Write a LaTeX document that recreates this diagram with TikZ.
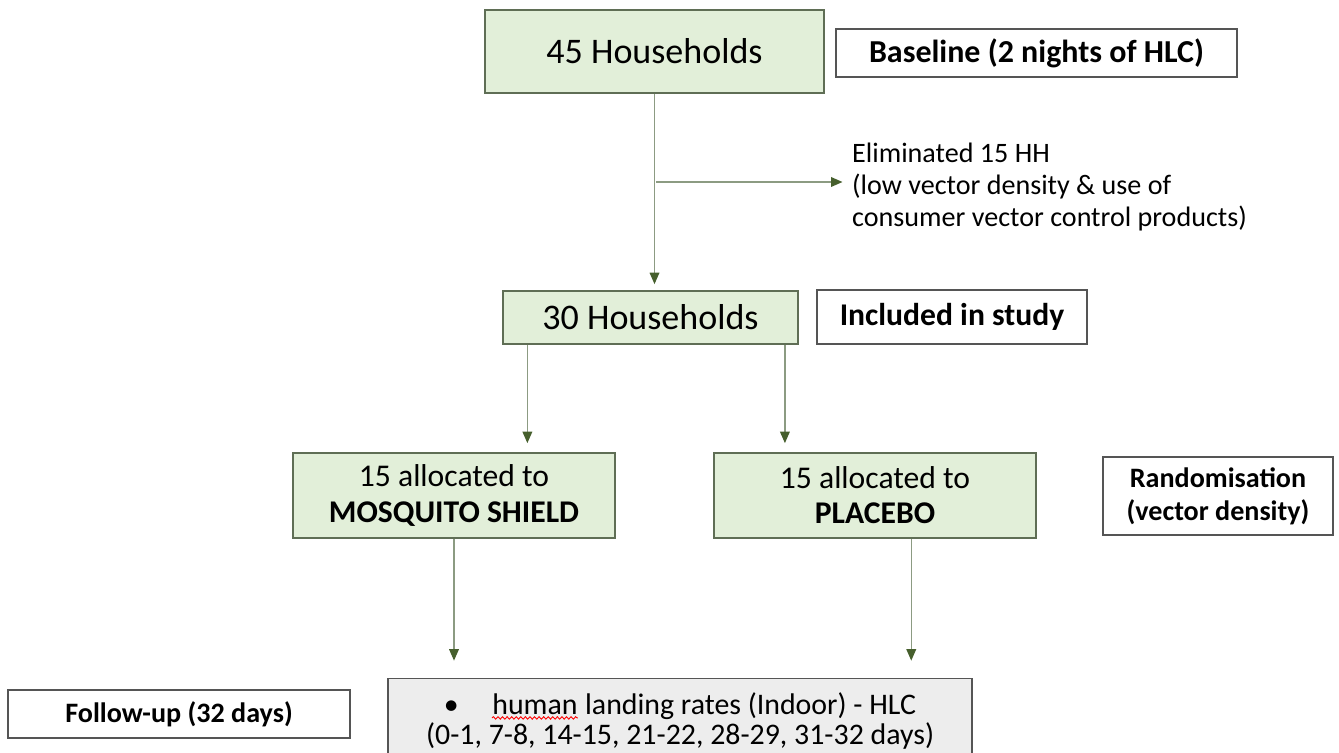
\documentclass[tikz,border=0pt]{standalone}
\usepackage{fontspec}
\setmainfont{Carlito}
\usetikzlibrary{arrows.meta}
\usetikzlibrary{calc}
\usetikzlibrary{positioning}
\usetikzlibrary{decorations.pathmorphing}

\definecolor{boxgreen}{RGB}{226,239,217}
\definecolor{boxgrey}{RGB}{237,237,237}
\definecolor{edgegreen}{RGB}{95,110,85}
\definecolor{edgegrey}{RGB}{85,85,85}
\definecolor{linegreen}{RGB}{140,155,130}
\definecolor{tipgreen}{RGB}{70,95,45}

% red spell-check wave under a word
\newcommand\spellwave[1]{\tikz[baseline=(w.base)]{%
  \node[draw=none, fill=none, inner sep=0pt, minimum width=0pt, minimum height=0pt] (w) {#1};
  \draw[red, line width=0.5pt, decorate, decoration={snake, amplitude=0.7pt, segment length=2.6pt}]
    ([yshift=-2.2pt]w.base west) -- ([yshift=-2.2pt]w.base east);}}

\tikzset{
  greenbox/.style={draw=edgegreen, fill=boxgreen, line width=1pt, align=center, inner sep=0pt},
  labelbox/.style={draw=edgegrey, fill=white, line width=1pt, align=center, inner sep=0pt,
    font=\bfseries\fontsize{18}{20}\selectfont},
  flow/.style={draw=linegreen, line width=0.7pt, -{Triangle[length=6.5pt,width=5.5pt,color=tipgreen]}}
}

\begin{document}
\begin{tikzpicture}[x=0.02cm, y=-0.02cm]
      \useasboundingbox (0,0) rectangle (1339,753);
      \clip (0,0) rectangle (1339,753);

      % boxes
      \node[greenbox, minimum width=6.78cm, minimum height=1.66cm, font=\fontsize{20.5}{24}\selectfont] (hh45) at (654.5,51.5) {45 Households};
      \node[labelbox, minimum width=8.02cm, minimum height=0.96cm, font=\bfseries\fontsize{18.2}{20}\selectfont] (base) at (1036.5,53) {Baseline (2 nights of HLC)};
      \node[anchor=west, align=left, font=\fontsize{16}{18}\selectfont] (elim) at (846,187) {Eliminated 15 HH\\(low vector density \& use of\\consumer vector control products)};

      \node[greenbox, minimum width=5.9cm, minimum height=1.06cm, font=\fontsize{20.5}{24}\selectfont] (hh30) at (650.5,317.5) {30 Households};
      \node[labelbox, minimum width=5.4cm, minimum height=1.08cm] (incl) at (952,317) {Included in study};

      \node[greenbox, minimum width=6.44cm, minimum height=1.7cm, font=\fontsize{18}{20}\selectfont] (shield) at (454,495.5) {15 allocated to\\\textbf{MOSQUITO SHIELD}};
      \node[greenbox, minimum width=6.44cm, minimum height=1.7cm, font=\fontsize{18}{20}\selectfont] (placebo) at (875,495.5) {15 allocated to\\\textbf{PLACEBO}};
      \node[labelbox, minimum width=4.6cm, minimum height=1.56cm, font=\bfseries\fontsize{16}{18.8}\selectfont] (rand) at (1218,496) {Randomisation\\(vector density)};

      \node[labelbox, minimum width=6.84cm, minimum height=0.96cm, font=\bfseries\fontsize{16}{18}\selectfont] (follow) at (179,714) {Follow-up (32 days)};
      \node[draw=edgegrey, fill=boxgrey, line width=1pt, align=center, minimum width=11.68cm, minimum height=1.7cm, font=\fontsize{17}{17.6}\selectfont] (hlc) at (680,721) {\textbullet\hspace{1.1em}\spellwave{human} landing rates (Indoor) - HLC\\(0-1, 7-8, 14-15, 21-22, 28-29, 31-32 days)};

      % connectors
      \coordinate (split) at (656,182);
      \draw[flow, shorten >=0.12cm] (hh45.south) -- (hh45.south |- hh30.north);
      \draw[flow, shorten >=2pt] (split) -- (split -| elim.west);

      \coordinate (left) at ($(hh30.south west)!0.085!(hh30.south east)$);
      \coordinate (right) at ($(hh30.south west)!0.953!(hh30.south east)$);
      \draw[flow, shorten >=0.18cm] (left) -- (left |- shield.north);
      \draw[flow, shorten >=0.18cm] (right) -- (right |- placebo.north);

      \coordinate (pdrop) at ($(placebo.south west)!0.612!(placebo.south east)$);
      \draw[flow, shorten >=0.34cm] (shield.south) -- (shield.south |- hlc.north);
      \draw[flow, shorten >=0.34cm] (pdrop) -- (pdrop |- hlc.north);
\end{tikzpicture}
\end{document}
